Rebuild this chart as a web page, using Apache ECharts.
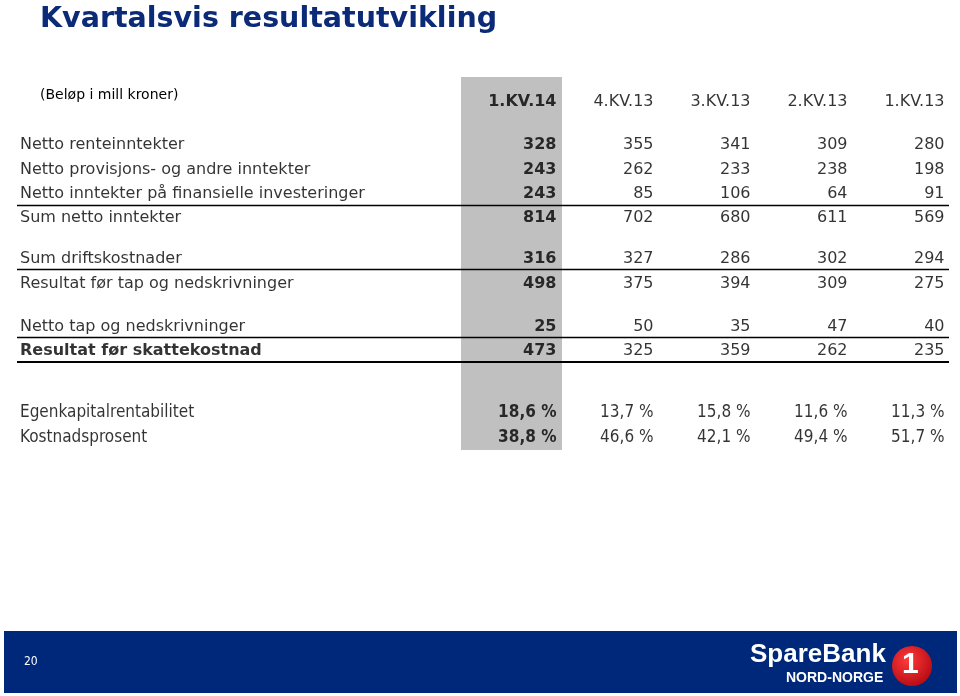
<!DOCTYPE html>
<html><head><meta charset="utf-8">
<script src="https://cdn.jsdelivr.net/npm/echarts@6/dist/echarts.min.js"></script>
<style>html,body{margin:0;padding:0;background:#fff}#c{width:960px;height:696px}</style>
</head><body><div id="c"></div>
<script>
// ---- data ----
const quarters = ['1.KV.14', '4.KV.13', '3.KV.13', '2.KV.13', '1.KV.13'];
const rowLabels = [
  'Netto renteinntekter',
  'Netto provisjons- og andre inntekter',
  'Netto inntekter på finansielle investeringer',
  'Sum netto inntekter',
  'Sum driftskostnader',
  'Resultat før tap og nedskrivninger',
  'Netto tap og nedskrivninger',
  'Resultat før skattekostnad'
];
const q1_14 = [328, 243, 243, 814, 316, 498, 25, 473];
const q4_13 = [355, 262, 85, 702, 327, 375, 50, 325];
const q3_13 = [341, 233, 106, 680, 286, 394, 35, 359];
const q2_13 = [309, 238, 64, 611, 302, 309, 47, 262];
const q1_13 = [280, 198, 91, 569, 294, 275, 40, 235];
const ratioLabels = ['Egenkapitalrentabilitet', 'Kostnadsprosent'];
const roe = [18.6, 13.7, 15.8, 11.6, 11.3];
const costRatio = [38.8, 46.6, 42.1, 49.4, 51.7];

// ---- layout (row positions in row units on the table's value axis) ----
const headerPos = -1.8;
const amountPos = [0, 1.01, 2, 2.98, 4.66, 5.69, 7.45, 8.43];
const ratioPos = [10.98, 12];
const boldRowLabel = 7;
const rules = [{pos: 2.45, w: 1.3}, {pos: 5.08, w: 1.3}, {pos: 7.87, w: 1.3}, {pos: 8.86, w: 2}];
const yRange = {min: -2.8, max: 12.5};

const FONT = 'DejaVu Sans';
const RATIO_FONT = 'DejaVu Sans Condensed, DejaVu Sans';
const amountCols = [q1_14, q4_13, q3_13, q2_13, q1_13];
const ratioCols = [roe, costRatio];
const pct = v => v.toFixed(1).replace('.', ',') + ' %';

const series = [];
// highlighted column
series.push({
  type: 'bar', xAxisIndex: 0, yAxisIndex: 1, silent: true, z: 0,
  data: quarters.map((q, i) => i === 0 ? 1 : '-'),
  barWidth: 105, itemStyle: {color: '#C0C0C0'}
});
// value columns
quarters.forEach((q, ci) => {
  const bold = ci === 0 ? 'bold' : 'normal';
  const data = [{name: q, value: [ci, headerPos]}];
  amountCols[ci].forEach((v, ri) => data.push({name: String(v), value: [ci, amountPos[ri]]}));
  ratioCols.forEach((arr, ri) => data.push({
    name: pct(arr[ci]), value: [ci, ratioPos[ri]],
    label: {fontFamily: RATIO_FONT, fontSize: 17}
  }));
  series.push({
    type: 'scatter', xAxisIndex: 0, yAxisIndex: 0, symbolSize: 0, silent: true, z: 5,
    data: data,
    label: {
      show: true, position: 'inside', align: 'right', verticalAlign: 'middle',
      offset: [47, 0], formatter: '{b}', color: '#000',
      fontFamily: FONT, fontSize: 16, fontWeight: bold
    }
  });
});
// row labels + rules
const labelData = rowLabels.map((t, i) => ({
  name: t, value: [0, amountPos[i]],
  label: i === boldRowLabel ? {fontWeight: 'bold'} : {}
}));
ratioLabels.forEach((t, i) => labelData.push({
  name: t, value: [0, ratioPos[i]], label: {fontFamily: RATIO_FONT, fontSize: 17}
}));
series.push({
  type: 'scatter', xAxisIndex: 1, yAxisIndex: 2, symbolSize: 0, silent: true, z: 5,
  data: labelData,
  label: {
    show: true, position: 'inside', align: 'left', verticalAlign: 'middle',
    offset: [3, 0], formatter: '{b}', color: '#000', fontFamily: FONT, fontSize: 16
  },
  markLine: {
    silent: true, symbol: ['none', 'none'], label: {show: false},
    lineStyle: {color: '#000', type: 'solid'},
    data: rules.map(r => ({yAxis: r.pos, lineStyle: {width: r.w}}))
  }
});

const chart = echarts.init(document.getElementById('c'));
chart.setOption({
  animation: false,
  backgroundColor: '#fff',
  title: [
    {text: 'Kvartalsvis resultatutvikling', left: 35, top: 0,
     textStyle: {fontFamily: FONT, fontWeight: 'bold', fontSize: 28.5, color: '#0B2A78'}},
    {text: '(Beløp i mill kroner)', left: 35, top: 83,
     textStyle: {fontFamily: FONT, fontWeight: 'normal', fontSize: 14, color: '#000'}}
  ],
  grid: [
    {left: 461, right: 14, top: 77, height: 373},
    {left: 17, right: 11, top: 77, height: 373}
  ],
  xAxis: [
    {type: 'category', gridIndex: 0, data: quarters, show: false},
    {type: 'value', gridIndex: 1, min: 0, max: 1, show: false}
  ],
  yAxis: [
    {type: 'value', gridIndex: 0, inverse: true, min: yRange.min, max: yRange.max, show: false},
    {type: 'value', gridIndex: 0, min: 0, max: 1, show: false},
    {type: 'value', gridIndex: 1, inverse: true, min: yRange.min, max: yRange.max, show: false}
  ],
  series: series,
  graphic: [
    {type: 'rect', left: 4, top: 631, shape: {width: 953, height: 62}, style: {fill: '#00287A'}, silent: true},
    {type: 'text', left: 24, top: 656, style: {text: '20', fill: '#fff', font: '12px "DejaVu Sans Condensed", "DejaVu Sans"'}},
    {type: 'text', left: 750, top: 642, style: {text: 'SpareBank', fill: '#fff', font: 'bold 26px "Liberation Sans"'}},
    {type: 'text', left: 786, top: 671, style: {text: 'NORD-NORGE', fill: '#fff', font: 'bold 14px "Liberation Sans"'}},
    {type: 'circle', shape: {cx: 912, cy: 666, r: 20},
     style: {fill: new echarts.graphic.RadialGradient(0.4, 0.35, 0.7, [
       {offset: 0, color: '#FF3B3B'}, {offset: 1, color: '#B50A12'}])}},
    {type: 'text', left: 902, top: 650, style: {text: '1', fill: '#fff', font: 'bold 30px "Liberation Sans"'}}
  ]
});
</script>
</body></html>
